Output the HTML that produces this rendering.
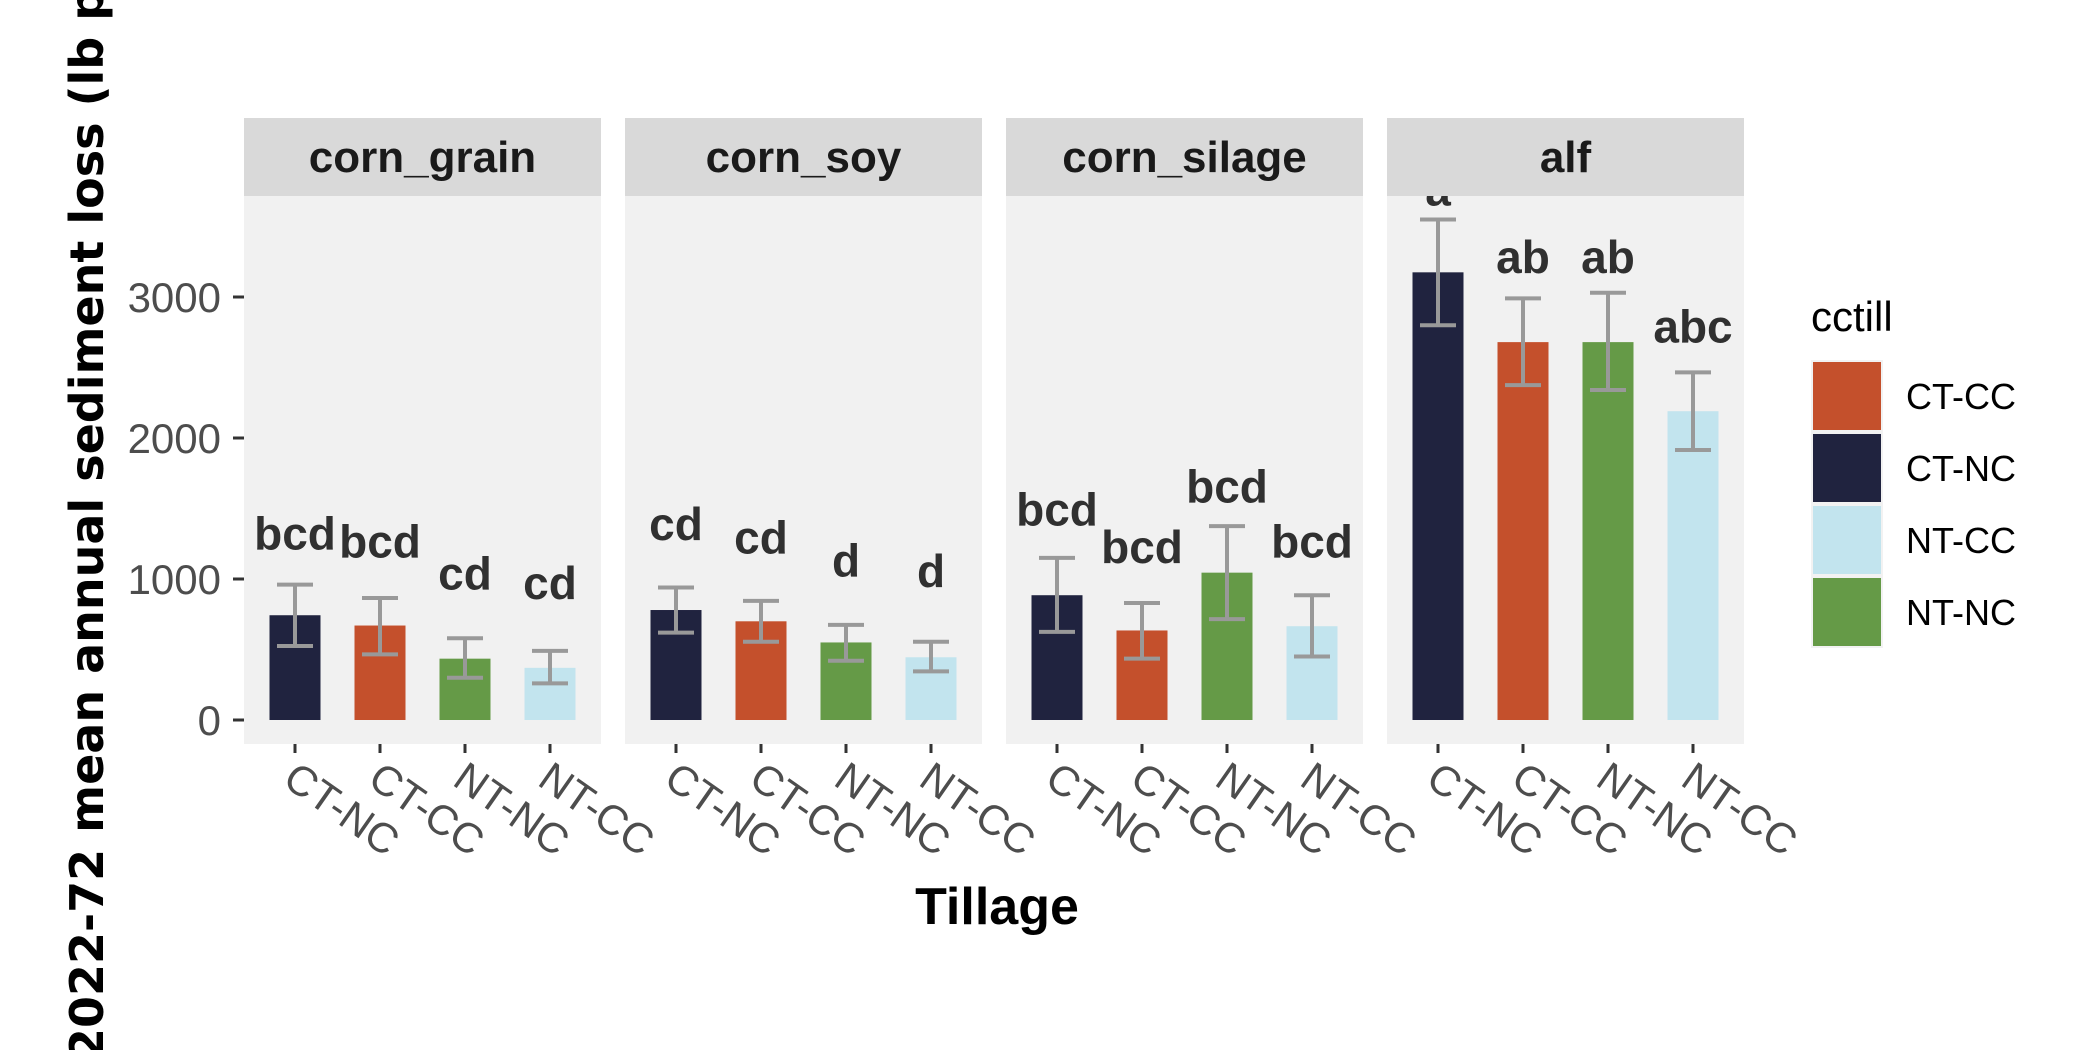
<!DOCTYPE html>
<html><head><meta charset="utf-8">
<style>html,body{margin:0;padding:0;background:#fff;}svg{display:block;}</style>
</head><body>
<svg id="chart" width="2100" height="1050" viewBox="0 0 2100 1050" xmlns="http://www.w3.org/2000/svg" font-family="Liberation Sans, Arial, sans-serif"></svg>
<script>
const facets = ["corn_grain","corn_soy","corn_silage","alf"];
const categories = ["CT-NC","CT-CC","NT-NC","NT-CC"];
const grainMeans = [743, 670, 435, 370];
const soyMeans = [780, 700, 550, 445];
const silageMeans = [885, 635, 1045, 665];
const alfMeans = [3175, 2680, 2680, 2190];
const grainLo = [525, 465, 300, 260];
const grainHi = [960, 865, 580, 490];
const soyLo = [620, 555, 420, 345];
const soyHi = [940, 845, 675, 555];
const silageLo = [625, 435, 715, 450];
const silageHi = [1150, 830, 1375, 885];
const alfLo = [2800, 2375, 2340, 1915];
const alfHi = [3550, 2990, 3030, 2465];
const grainLetters = ["bcd","bcd","cd","cd"];
const soyLetters = ["cd","cd","d","d"];
const silageLetters = ["bcd","bcd","bcd","bcd"];
const alfLetters = ["a","ab","ab","abc"];
const grainLabelY = [1210, 1152, 924, 857];
const soyLabelY = [1276, 1181, 1019, 943];
const silageLabelY = [1381, 1114, 1543, 1152];
const alfLabelY = [3650, 3171, 3171, 2676];
const yTicks = [0, 1000, 2000, 3000];
const legendKeys = ["CT-CC","CT-NC","NT-CC","NT-NC"];

const colors = {"CT-NC":"#20233f","CT-CC":"#c4502c","NT-NC":"#659a47","NT-CC":"#c2e4ee"};
const means = [grainMeans, soyMeans, silageMeans, alfMeans];
const los = [grainLo, soyLo, silageLo, alfLo];
const his = [grainHi, soyHi, silageHi, alfHi];
const letters = [grainLetters, soyLetters, silageLetters, alfLetters];
const labelYs = [grainLabelY, soyLabelY, silageLabelY, alfLabelY];

const NS = "http://www.w3.org/2000/svg";
const svg = document.getElementById("chart");
function mk(tag, attrs, parent){ const e=document.createElementNS(NS,tag); for(const k in attrs) e.setAttribute(k,attrs[k]); (parent||svg).appendChild(e); return e; }

const panelLefts = [244, 625, 1006, 1387];
const panelW = 357;
const stripTop = 118, stripBot = 196, panelBot = 744;
const y0 = 720, pxPer = 0.1410;
function yScale(v){ return y0 - v*pxPer; }
function xScale(p, i){ return panelLefts[p] + panelW*(i+0.6)/4.2; }
const barW = 51;

facets.forEach((f,p)=>{
  const g = mk("g",{});
  
  
  const bg = mk("rect",{x:panelLefts[p],y:stripBot,width:panelW,height:panelBot-stripBot,fill:"#f1f1f1"},g);
  
  
  categories.forEach((c,i)=>{
    const cx = xScale(p,i);
    const top = yScale(means[p][i]);
    const r = mk("rect",{x:cx-barW/2,y:top,width:barW,height:yScale(0)-top,fill:colors[c]},g);
    
    
    const eb = mk("path",{d:`M${cx-18},${yScale(his[p][i])}H${cx+18}M${cx},${yScale(his[p][i])}V${yScale(los[p][i])}M${cx-18},${yScale(los[p][i])}H${cx+18}`,stroke:"#999999","stroke-width":4,fill:"none"},g);
    
    
    const t = mk("text",{x:cx,y:yScale(labelYs[p][i]),"text-anchor":"middle","font-size":46,"font-weight":"bold",fill:"#303030"},g);
    t.textContent = letters[p][i];
    
    
    const tk = mk("line",{x1:cx,x2:cx,y1:panelBot,y2:panelBot+9,stroke:"#333","stroke-width":3},g);
    
    
    const lx = cx-14, ly = panelBot+40;
    const tl = mk("text",{x:lx,y:ly,"font-size":42,fill:"#4d4d4d",transform:`rotate(35 ${lx} ${ly})`},g);
    tl.textContent = c;
    
    
  });
  const st = mk("rect",{x:panelLefts[p],y:stripTop,width:panelW,height:stripBot-stripTop,fill:"#d9d9d9"},g);
  
  
  const stt = mk("text",{x:panelLefts[p]+panelW/2,y:172,"text-anchor":"middle","font-size":44,"font-weight":"bold",fill:"#1a1a1a"},g);
  stt.textContent = f;
  
  
});

yTicks.forEach(v=>{
  const y = yScale(v);
  const l = mk("line",{x1:233,x2:244,y1:y,y2:y,stroke:"#333","stroke-width":3});
  
  
  const t = mk("text",{x:221,y:y+15,"text-anchor":"end","font-size":42,fill:"#4d4d4d"});
  t.textContent = v;
  
  
});

const yt = mk("text",{x:0,y:0,"font-size":46,"font-weight":"bold",fill:"#000","font-family":"DejaVu Sans, sans-serif",transform:"translate(103,1060) rotate(-90)"});
yt.textContent = "2022-72 mean annual sediment loss (lb per acre)";



const xt = mk("text",{x:997,y:924,"text-anchor":"middle","font-size":52,"font-weight":"bold",fill:"#000"});
xt.textContent = "Tillage";



const lt = mk("text",{x:1811,y:331,"font-size":42,fill:"#000"});
lt.textContent = "cctill";


legendKeys.forEach((k,i)=>{
  const y = 360 + i*72;
  const g = mk("g",{});
  
  
  mk("rect",{x:1811,y:y,width:72,height:72,fill:"#f2f2f2"},g);
  mk("rect",{x:1813,y:y+2,width:68,height:68,fill:colors[k]},g);
  const t = mk("text",{x:1906,y:y+49,"font-size":36,fill:"#000"},g);
  t.textContent = k;
});
</script>
</body></html>
